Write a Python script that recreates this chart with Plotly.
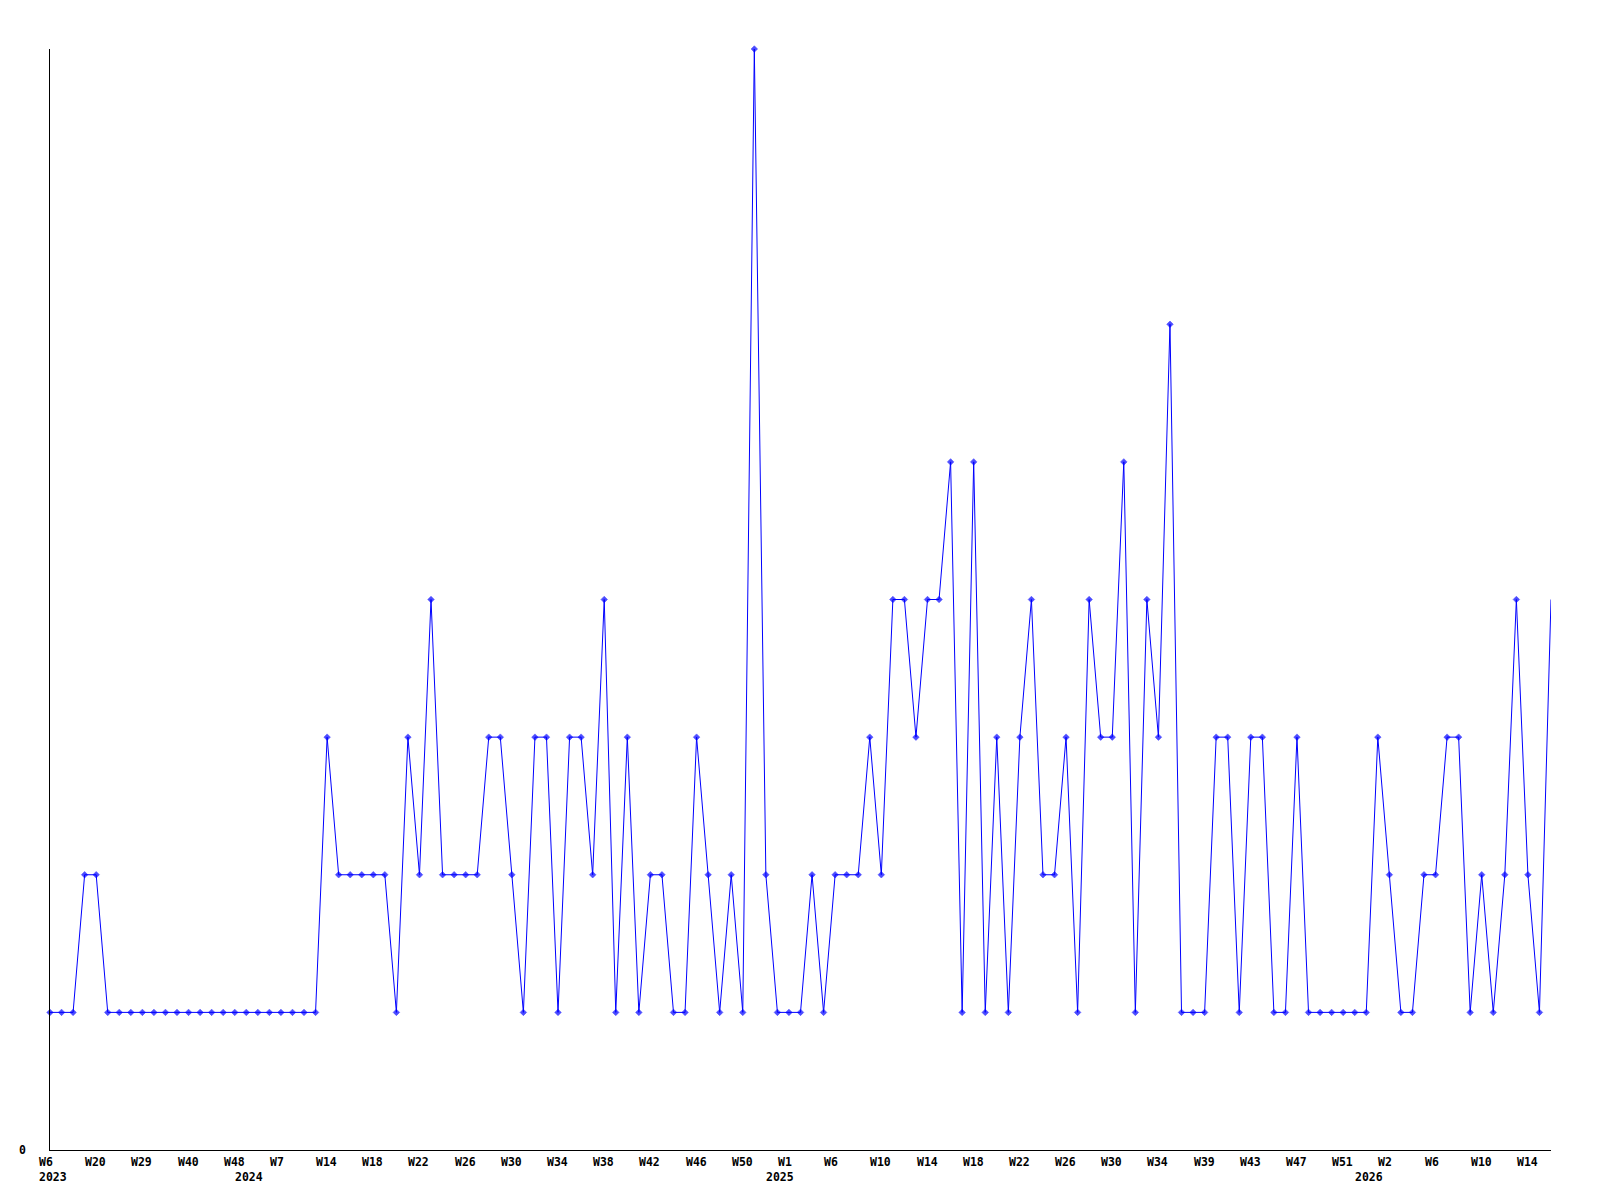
import numpy as np
import plotly.graph_objects as go

# weekly counts, one value per point (left to right)
values = [
    1, 1, 1, 2, 2, 1, 1, 1, 1, 1, 1, 1, 1, 1, 1, 1, 1, 1, 1, 1,
    1, 1, 1, 1, 3, 2, 2, 2, 2, 2, 1, 3, 2, 4, 2, 2, 2, 2, 3, 3,
    2, 1, 3, 3, 1, 3, 3, 2, 4, 1, 3, 1, 2, 2, 1, 1, 3, 2, 1, 2,
    1, 8, 2, 1, 1, 1, 2, 1, 2, 2, 2, 3, 2, 4, 4, 3, 4, 4, 5, 1,
    5, 1, 3, 1, 3, 4, 2, 2, 3, 1, 4, 3, 3, 5, 1, 4, 3, 6, 1, 1,
    1, 3, 3, 1, 3, 3, 1, 1, 3, 1, 1, 1, 1, 1, 1, 3, 2, 1, 1, 2,
    2, 3, 3, 1, 2, 1, 2, 4, 2, 1, 4,
]

# one label on every 4th point
week_labels = [
    "W6", "W20", "W29", "W40", "W48", "W7", "W14", "W18", "W22", "W26", "W30",
    "W34", "W38", "W42", "W46", "W50", "W1", "W6", "W10", "W14", "W18", "W22",
    "W26", "W30", "W34", "W39", "W43", "W47", "W51", "W2", "W6", "W10", "W14",
]
years = ["2023", "2024", "2025", "2026"]
year_start = [0, 17, 63, 114]

x = np.arange(len(values))
label_step = 4

fig = go.Figure()
fig.add_trace(
    go.Scatter(
        x=x,
        y=values,
        mode="lines+markers",
        line=dict(color="#0000ff", width=1),
        marker=dict(
            symbol="diamond",
            size=[5] * (len(values) - 1) + [0],
            color="#0000ff",
            line=dict(color="#0000ff", width=0.6),
        ),
        cliponaxis=False,
        showlegend=False,
    )
)

font = dict(family="DejaVu Sans Mono", size=11.5, color="black")
annotations = []
for i, lab in enumerate(week_labels):
    annotations.append(
        dict(
            x=i * label_step, y=0, xref="x", yref="paper",
            text=f"<b>{lab}</b>", showarrow=False,
            xanchor="left", yanchor="middle", xshift=-13, yshift=-12,
            font=font,
        )
    )
for yr, idx in zip(years, year_start):
    annotations.append(
        dict(
            x=idx, y=0, xref="x", yref="paper",
            text=f"<b>{yr}</b>", showarrow=False,
            xanchor="left", yanchor="middle", xshift=-13, yshift=-27,
            font=font,
        )
    )
annotations.append(
    dict(
        x=0, y=0, xref="paper", yref="y",
        text="<b>0</b>", showarrow=False,
        xanchor="right", yanchor="middle", xshift=-22,
        font=font,
    )
)

# page body adds an 8px offset, so the figure is a bit smaller than the window
fig.update_layout(
    width=1584,
    height=1184,
    margin=dict(l=42, r=41, t=41, b=42),
    paper_bgcolor="white",
    plot_bgcolor="white",
    annotations=annotations,
)
fig.update_xaxes(
    range=[0, len(values) - 1],
    showgrid=False, zeroline=False, showticklabels=False, ticks="",
    showline=True, linecolor="black", linewidth=1,
)
fig.update_yaxes(
    range=[0, 8],
    showgrid=False, zeroline=False, showticklabels=False, ticks="",
    showline=True, linecolor="black", linewidth=1,
)

fig.write_html("out.html")
